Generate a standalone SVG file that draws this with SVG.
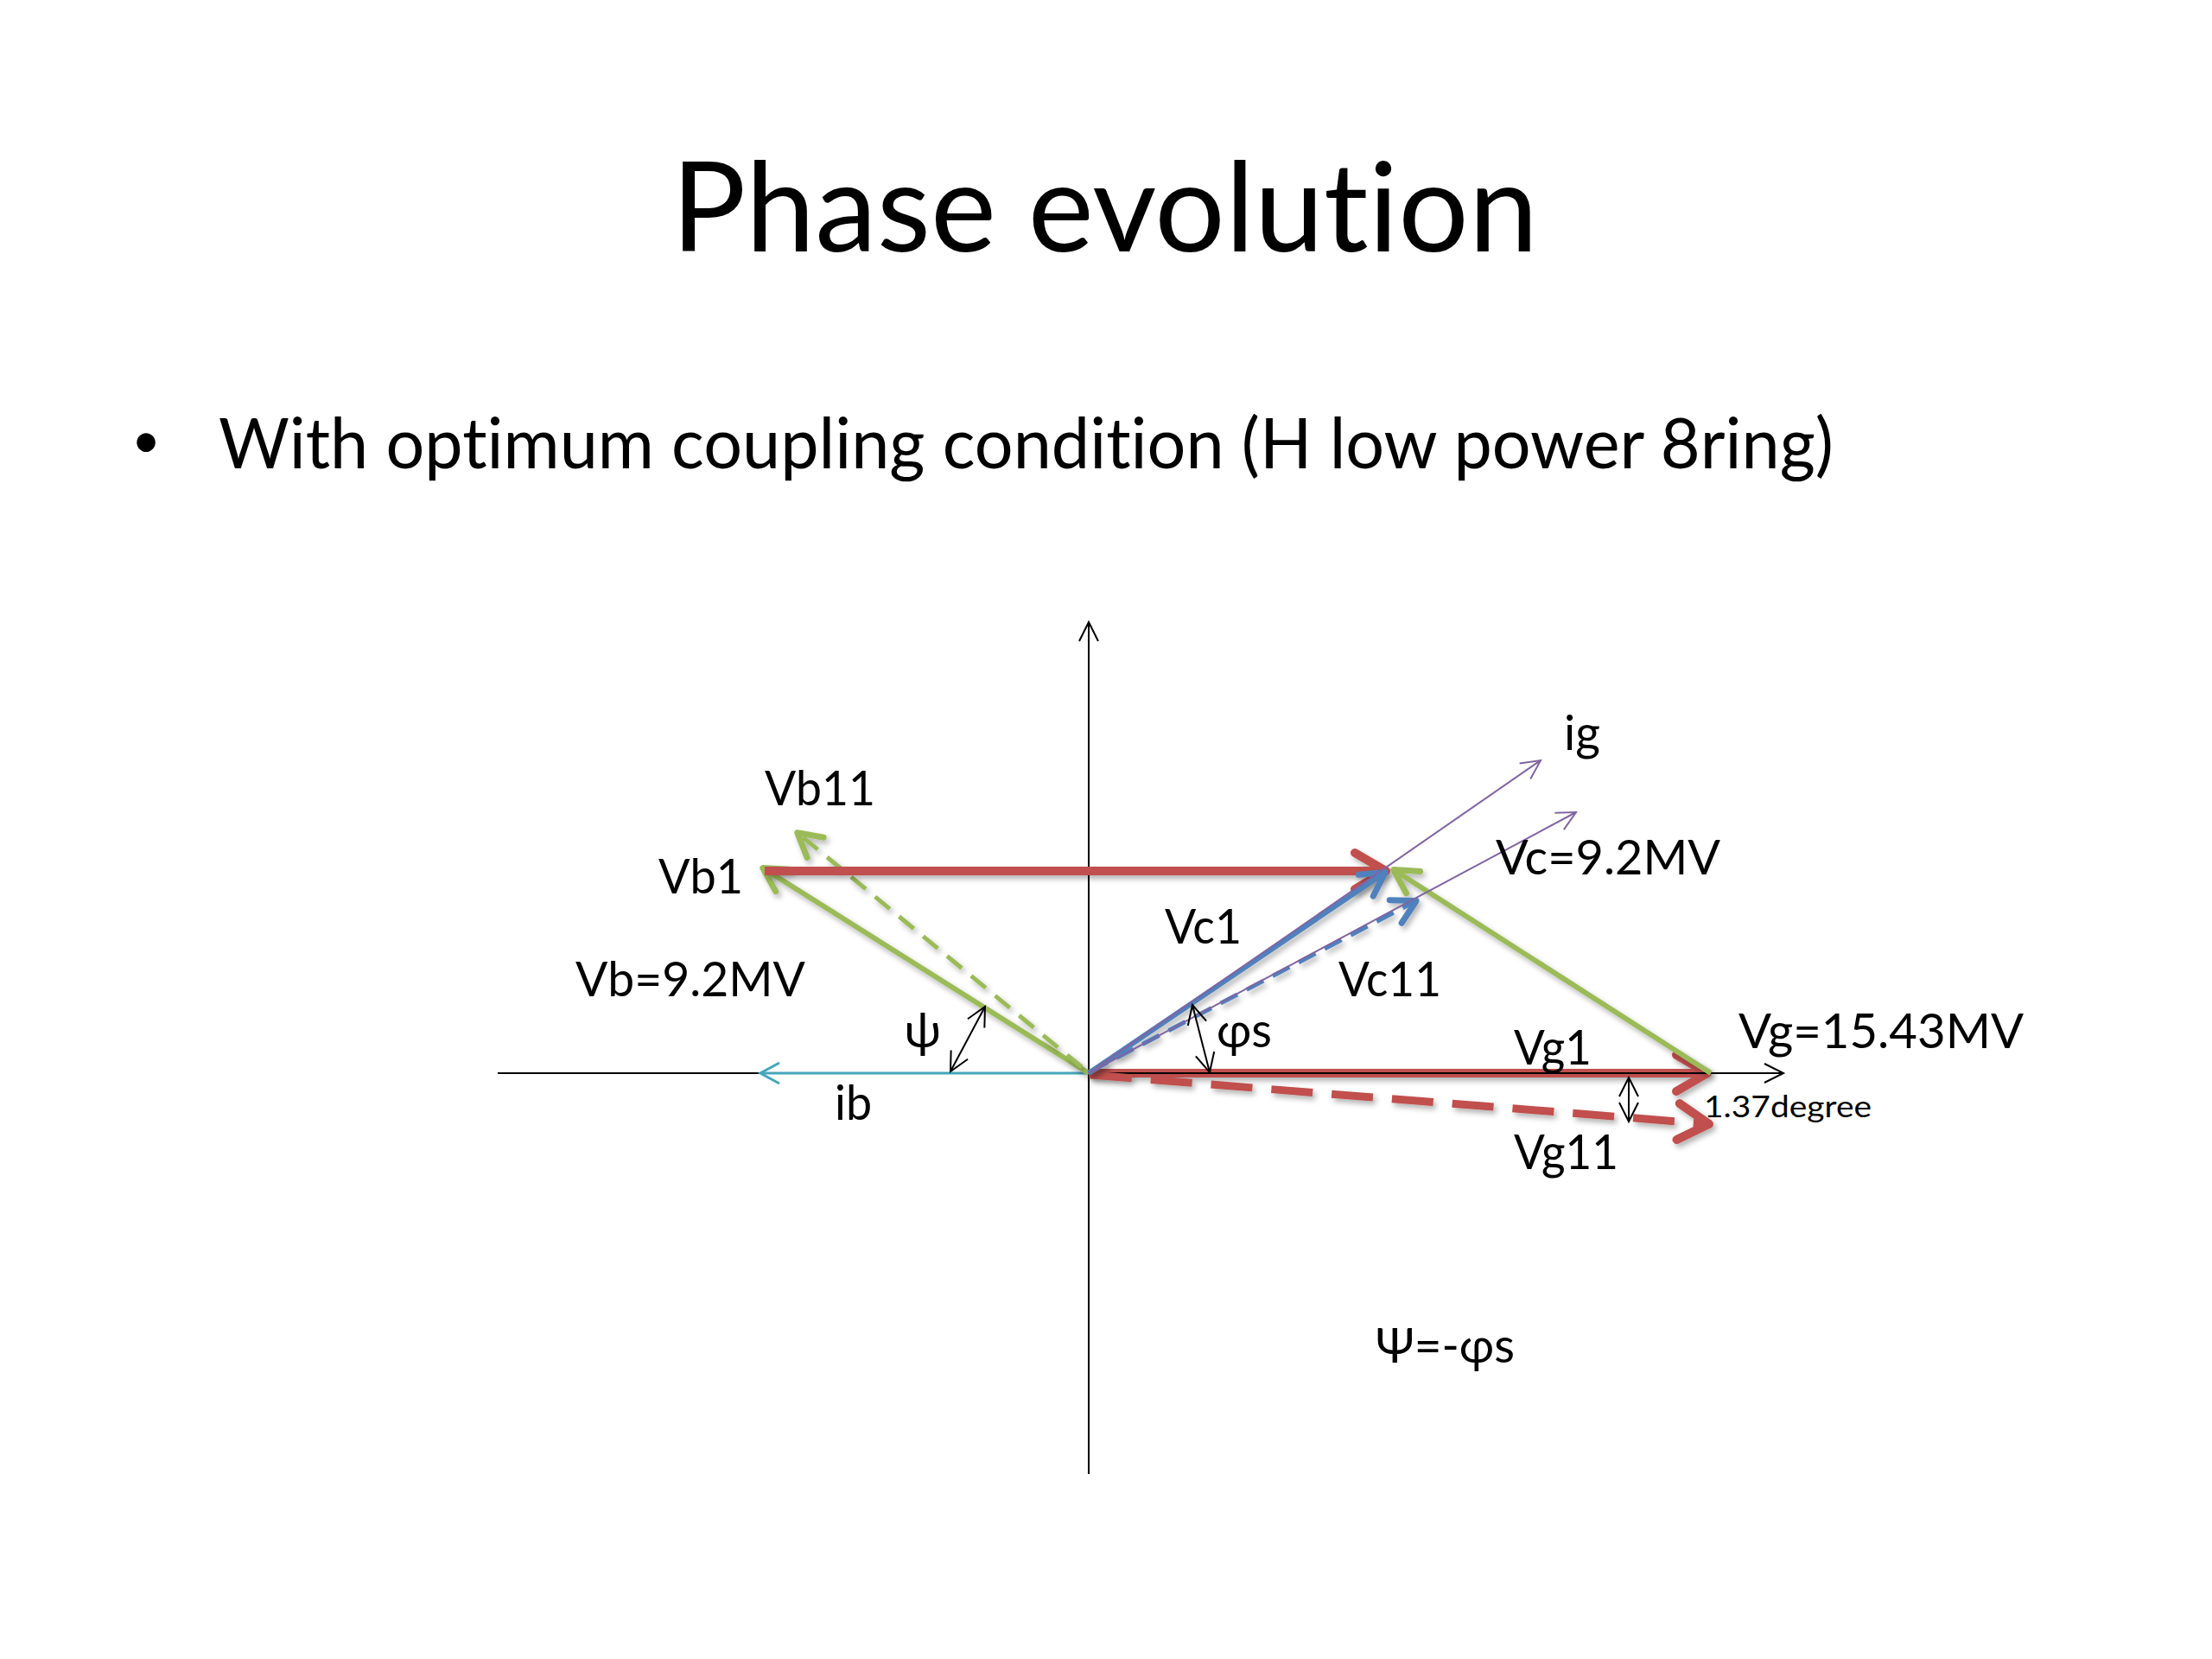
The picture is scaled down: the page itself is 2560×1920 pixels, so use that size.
<svg xmlns="http://www.w3.org/2000/svg" width="2560" height="1920" viewBox="0 0 2560 1920">
<style>
  text { font-family: Lato, "Open Sans", "Liberation Sans", sans-serif; fill: #000; font-variant-ligatures: none; font-feature-settings: "liga" 0, "clig" 0; }
  .title { font-size: 144px; }
  .bullet { font-size: 82px; }
  .dot { font-size: 58px; }
  .lbl { font-size: 56px; }
  .small { font-size: 34px; }
  .thin { fill: none; stroke: #000; stroke-width: 2; }
  .red { fill: none; stroke: #C0504D; stroke-width: 10; }
  .redd { fill: none; stroke: #C0504D; stroke-width: 9; stroke-dasharray: 48 22; }
  .green { fill: none; stroke: #9BBB59; stroke-width: 6; }
  .greend { fill: none; stroke: #9BBB59; stroke-width: 5; stroke-dasharray: 22 14; }
  .blue { fill: none; stroke: #4F81BD; stroke-width: 6; }
  .blued { fill: none; stroke: #4F81BD; stroke-width: 5; stroke-dasharray: 22 12; }
  .purple { fill: none; stroke: #8064A2; stroke-width: 2; }
  .teal { fill: none; stroke: #46A5BC; stroke-width: 3; }
</style>
<defs>
  <filter id="sh" filterUnits="userSpaceOnUse" x="0" y="0" width="2560" height="1920">
    <feDropShadow dx="3" dy="4" stdDeviation="3" flood-color="#000" flood-opacity="0.3"/>
  </filter>
  <marker id="aBlack" markerUnits="userSpaceOnUse" markerWidth="40" markerHeight="40" viewBox="-30 -20 40 40" refX="0" refY="0" orient="auto-start-reverse" overflow="visible">
    <path d="M-22,-11 L0,0 L-22,11" fill="none" stroke="#000" stroke-width="2"/>
  </marker>
  <marker id="aPurple" markerUnits="userSpaceOnUse" markerWidth="40" markerHeight="40" viewBox="-30 -20 40 40" refX="0" refY="0" orient="auto" overflow="visible">
    <path d="M-22,-11 L0,0 L-22,11" fill="none" stroke="#8064A2" stroke-width="2"/>
  </marker>
  <marker id="aTeal" markerUnits="userSpaceOnUse" markerWidth="40" markerHeight="40" viewBox="-30 -20 40 40" refX="0" refY="0" orient="auto" overflow="visible">
    <path d="M-22,-12 L0,0 L-22,12" fill="none" stroke="#46A5BC" stroke-width="3"/>
  </marker>
  <marker id="aRed" markerUnits="userSpaceOnUse" markerWidth="80" markerHeight="80" viewBox="-60 -40 80 80" refX="0" refY="0" orient="auto" overflow="visible">
    <path d="M-38,-21 L-2,0 L-38,21" fill="none" stroke="#C0504D" stroke-width="10" stroke-linecap="round" stroke-linejoin="round"/>
  </marker>
  <marker id="aGreen" markerUnits="userSpaceOnUse" markerWidth="80" markerHeight="80" viewBox="-60 -40 80 80" refX="0" refY="0" orient="auto" overflow="visible">
    <path d="M-28,-15 L-1,0 L-28,15" fill="none" stroke="#9BBB59" stroke-width="7" stroke-linecap="round" stroke-linejoin="round"/>
  </marker>
  <marker id="aBlue" markerUnits="userSpaceOnUse" markerWidth="80" markerHeight="80" viewBox="-60 -40 80 80" refX="0" refY="0" orient="auto" overflow="visible">
    <path d="M-28,-15 L-1,0 L-28,15" fill="none" stroke="#4F81BD" stroke-width="7" stroke-linecap="round" stroke-linejoin="round"/>
  </marker>
</defs>
<rect width="2560" height="1920" fill="#fff"/>

<g id="title">
  <text class="title" x="777" y="291" textLength="1003" lengthAdjust="spacingAndGlyphs">Phase evolution</text>
</g>
<g id="bullet">
  <text class="dot" x="169" y="530" text-anchor="middle">•</text>
  <text class="bullet" x="253" y="542" textLength="1869" lengthAdjust="spacingAndGlyphs">With optimum coupling condition (H low power 8ring)</text>
</g>

<g id="connectors">
  <line id="axis-y" class="thin" x1="1260" y1="1706" x2="1260" y2="720" marker-end="url(#aBlack)"/>
  <line id="vg1" class="red" filter="url(#sh)" x1="1260" y1="1242" x2="1978" y2="1242" marker-end="url(#aRed)"/>
  <line id="axis-x" class="thin" x1="576" y1="1242" x2="2064" y2="1242" marker-end="url(#aBlack)"/>
  <line id="ib" class="teal" x1="1260" y1="1242" x2="880" y2="1242" marker-end="url(#aTeal)"/>
  <line id="vg11" class="redd" filter="url(#sh)" x1="1262" y1="1244" x2="1980" y2="1301" marker-end="url(#aRed)"/>
  <line id="vb" class="green" filter="url(#sh)" x1="1260" y1="1242" x2="882" y2="1004" marker-end="url(#aGreen)"/>
  <line id="vb11" class="greend" filter="url(#sh)" x1="1252" y1="1235" x2="922" y2="963" marker-end="url(#aGreen)"/>
  <line id="vg-t" class="red" filter="url(#sh)" x1="885" y1="1008" x2="1606" y2="1008" marker-end="url(#aRed)"/>
  <line id="vb-t" class="green" filter="url(#sh)" x1="1980" y1="1242" x2="1612" y2="1006" marker-end="url(#aGreen)"/>
  <line id="vc1" class="blue" filter="url(#sh)" x1="1260" y1="1242" x2="1604" y2="1009" marker-end="url(#aBlue)"/>
  <line id="vc11" class="blued" filter="url(#sh)" x1="1262" y1="1240" x2="1640" y2="1042" marker-end="url(#aBlue)"/>
  <line id="ig" class="purple" x1="1260" y1="1242" x2="1783" y2="880" marker-end="url(#aPurple)"/>
  <line id="vc-dir" class="purple" x1="1260" y1="1242" x2="1824" y2="940" marker-end="url(#aPurple)"/>
  <line id="psi-arc" class="thin" x1="1140" y1="1165" x2="1100" y2="1240" marker-start="url(#aBlack)" marker-end="url(#aBlack)"/>
  <line id="phis-arc" class="thin" x1="1380" y1="1163" x2="1400" y2="1241" marker-start="url(#aBlack)" marker-end="url(#aBlack)"/>
  <line id="deg-arc" class="thin" x1="1885" y1="1247" x2="1885" y2="1298" marker-start="url(#aBlack)" marker-end="url(#aBlack)"/>
</g>

<g id="labels">
  <g id="n-vb11"><text class="lbl" x="885" y="932" textLength="128" lengthAdjust="spacingAndGlyphs">Vb11</text></g>
  <g id="n-vb1"><text class="lbl" x="762" y="1034" textLength="98" lengthAdjust="spacingAndGlyphs">Vb1</text></g>
  <g id="n-vb"><text class="lbl" x="666" y="1153" textLength="266" lengthAdjust="spacingAndGlyphs">Vb=9.2MV</text></g>
  <g id="n-psi"><text class="lbl" x="1068" y="1212" text-anchor="middle">ψ</text></g>
  <g id="n-ib"><text class="lbl" x="966" y="1296" textLength="43" lengthAdjust="spacingAndGlyphs">ib</text></g>
  <g id="n-vc1"><text class="lbl" x="1348" y="1092" textLength="89" lengthAdjust="spacingAndGlyphs">Vc1</text></g>
  <g id="n-vc11"><text class="lbl" x="1549" y="1153" textLength="119" lengthAdjust="spacingAndGlyphs">Vc11</text></g>
  <g id="n-phis"><text class="lbl" x="1408" y="1212" textLength="64" lengthAdjust="spacingAndGlyphs">φs</text></g>
  <g id="n-vg1"><text class="lbl" x="1752" y="1232" textLength="90" lengthAdjust="spacingAndGlyphs">Vg1</text></g>
  <g id="n-vc"><text class="lbl" x="1731" y="1012" textLength="260" lengthAdjust="spacingAndGlyphs">Vc=9.2MV</text></g>
  <g id="n-ig"><text class="lbl" x="1810" y="868" textLength="42" lengthAdjust="spacingAndGlyphs">ig</text></g>
  <g id="n-vg"><text class="lbl" x="2012" y="1213" textLength="330" lengthAdjust="spacingAndGlyphs">Vg=15.43MV</text></g>
  <g id="n-deg"><text class="small" x="1972" y="1293" textLength="194" lengthAdjust="spacingAndGlyphs">1.37degree</text></g>
  <g id="n-vg11"><text class="lbl" x="1752" y="1353" textLength="121" lengthAdjust="spacingAndGlyphs">Vg11</text></g>
  <g id="n-eq"><text class="lbl" x="1592" y="1577" textLength="161" lengthAdjust="spacingAndGlyphs">Ψ=-φs</text></g>
</g>
</svg>
